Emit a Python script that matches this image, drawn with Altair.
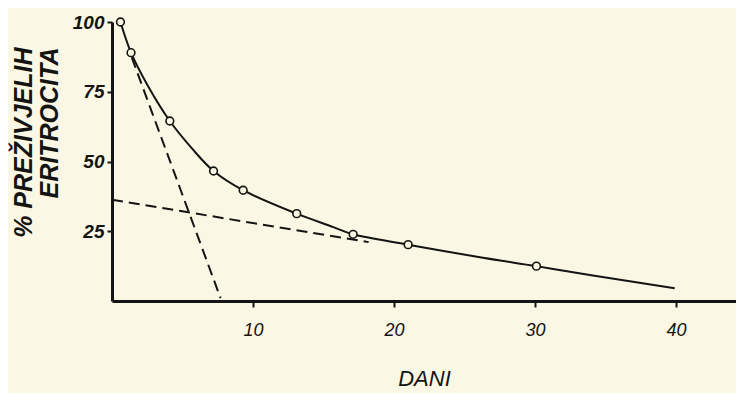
import altair as alt
import pandas as pd

# observed points (day, % surviving erythrocytes)
obs_day = [0.6, 1.35, 4.1, 7.2, 9.3, 13.1, 17.1, 21.0, 30.1]
obs_pct = [100.0, 89.0, 64.5, 46.6, 39.7, 31.3, 23.9, 20.2, 12.5]

# hand-drawn smooth survival curve
curve_day = [0.6, 1.35, 2.5, 4.1, 5.7, 7.2, 9.3, 13.1, 15.7, 17.1, 21.0, 26.3, 30.1, 34.1, 39.9]
curve_pct = [100.0, 89.0, 77.5, 64.5, 54.5, 46.6, 39.7, 31.3, 26.5, 23.9, 20.2, 15.5, 12.5, 9.1, 4.6]

# dashed extrapolation lines
fast_day = [1.4, 7.7]
fast_pct = [87.3, 1.0]
slow_day = [0.0, 18.2]
slow_pct = [36.3, 21.1]

x_ticks = [10, 20, 30, 40]
y_ticks = [25, 50, 75, 100]

INK = "#141412"
BG = "#faf7e4"
FONT = "Liberation Sans"

obs = pd.DataFrame({"day": obs_day, "pct": obs_pct})
curve = pd.DataFrame({"day": curve_day, "pct": curve_pct})
dashed = pd.DataFrame({
    "day": fast_day + slow_day,
    "pct": fast_pct + slow_pct,
    "line": ["fast", "fast", "slow", "slow"],
})

xs = alt.Scale(domain=[0, 44.25], nice=False, zero=False)
ys = alt.Scale(domain=[0, 100], nice=False)

x_axis = alt.Axis(
    values=x_ticks, title="DANI", grid=False,
    domainColor=INK, domainWidth=3, tickColor=INK, tickWidth=2, tickSize=6,
    labelFont=FONT, labelFontSize=18, labelFontStyle="italic", labelColor=INK,
    labelPadding=14,
    titleFont=FONT, titleFontSize=22, titleFontStyle="italic", titleFontWeight="normal",
    titleColor=INK, titlePadding=29,
)
y_axis = alt.Axis(
    values=y_ticks, title=["% PREŽIVJELIH", "ERITROCITA"], grid=False,
    domainColor=INK, domainWidth=3, tickColor=INK, tickWidth=2, tickSize=5,
    labelFont=FONT, labelFontSize=19, labelFontStyle="italic", labelFontWeight="bold",
    labelColor=INK, labelPadding=3,
    titleFont=FONT, titleFontSize=25, titleFontStyle="italic", titleFontWeight="bold",
    titleColor=INK, titleAngle=270, titleAlign="right", titleBaseline="middle",
    titleAnchor="end", titleX=-89, titleY=25, titleLineHeight=26,
)

curve_layer = alt.Chart(curve).mark_line(
    color=INK, strokeWidth=2, interpolate="catmull-rom"
).encode(
    x=alt.X("day:Q", scale=xs, axis=x_axis),
    y=alt.Y("pct:Q", scale=ys, axis=y_axis),
)

dash_layer = alt.Chart(dashed).mark_line(
    color=INK, strokeWidth=2, strokeDash=[11, 6]
).encode(
    x=alt.X("day:Q", scale=xs),
    y=alt.Y("pct:Q", scale=ys),
    detail="line:N",
)

pts_layer = alt.Chart(obs).mark_point(
    shape="circle", size=60, filled=True, fill=BG, stroke=INK, strokeWidth=1.6, opacity=1
).encode(
    x=alt.X("day:Q", scale=xs),
    y=alt.Y("pct:Q", scale=ys),
)

chart = alt.layer(dash_layer, curve_layer, pts_layer).properties(
    width=624, height=279,
    autosize="none",
    padding={"left": 104, "top": 14, "right": 0, "bottom": 92},
    background=BG,
).configure_view(stroke=None)

chart.save("out.html", embed_options={"renderer": "svg", "actions": False})
